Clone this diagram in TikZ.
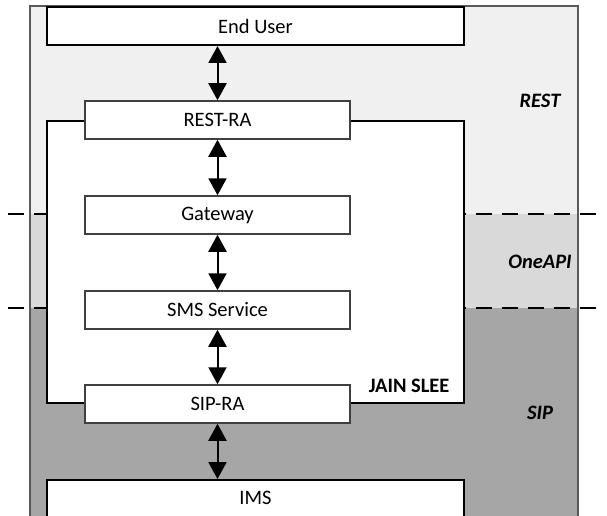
\documentclass[tikz,border=0pt]{standalone}
\usepackage{fontspec}
\setmainfont{Carlito}
\usetikzlibrary{arrows.meta}
\definecolor{restbg}{HTML}{F0F0F0}
\definecolor{apibg}{HTML}{D9D9D9}
\definecolor{sipbg}{HTML}{A6A6A6}
\definecolor{edge}{HTML}{595959}
\definecolor{boxedge}{HTML}{404040}
\begin{document}
\begin{tikzpicture}[x=1pt,y=-1pt,
  font=\fontsize{20.5}{24}\selectfont,
  outerbox/.style={draw=black,line width=2pt,fill=white,minimum width=417pt,inner sep=0pt},
  innerbox/.style={draw=boxedge,line width=1.5pt,fill=white,minimum width=265pt,minimum height=38pt,inner sep=0pt},
  layername/.style={font=\fontsize{20.5}{24}\selectfont\bfseries\itshape},
  link/.style={line width=2pt,{Triangle[length=17pt,width=18pt]}-{Triangle[length=17pt,width=18pt]}},
  divider/.style={line width=1.5pt,dash pattern=on 16pt off 10pt}]
\useasboundingbox (0,0) rectangle (607,516);
\clip (0,0) rectangle (607,516);

% protocol layers
\fill[restbg] (30,6) rectangle (578,214);
\fill[apibg] (30,214) rectangle (578,308);
\fill[sipbg] (30,308) rectangle (578,530);
\draw[edge,line width=1.5pt] (30,530) -- (30,6) -- (578,6) -- (578,530);

% layer boundaries
\draw[divider] (8,214) -- (600,214);
\draw[divider] (8,308) -- (600,308);

% container and end points
\node[outerbox,minimum height=282pt] (slee) at (255.5,262) {};
\node[outerbox,minimum height=38pt] (user) at (255.5,26) {End User};
\node[outerbox,minimum height=60pt,anchor=north] (ims) at (255.5,479) {};
\node (imstext) at (255.5,498) {IMS};

% components
\node[innerbox] (restra) at (217.5,120) {REST-RA};
\node[innerbox] (gateway) at (217.5,215) {Gateway};
\node[innerbox] (sms) at (217.5,310) {SMS Service};
\node[innerbox] (sipra) at (217.5,404) {SIP-RA};

\node[font=\fontsize{20.5}{24}\selectfont\bfseries,anchor=base east] (sleename) at (453,392) {JAIN SLEE};

% interactions
\draw[link] (user.south -| restra.north) -- (restra.north);
\draw[link] (restra.south) -- (gateway.north);
\draw[link] (gateway.south) -- (sms.north);
\draw[link] (sms.south) -- (sipra.north);
\draw[link] (sipra.south) -- (sipra.south |- ims.north);

% layer names
\node[layername] (restname) at (540,101) {REST};
\node[layername] (apiname) at (540,262) {OneAPI};
\node[layername] (sipname) at (540,413) {SIP};
\end{tikzpicture}
\end{document}
